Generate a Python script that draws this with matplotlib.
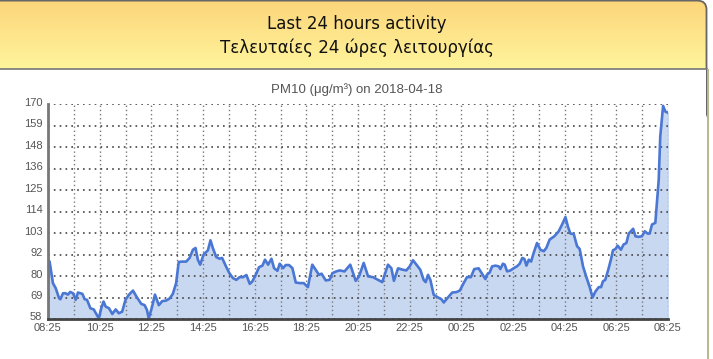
import numpy as np
import matplotlib.pyplot as plt
import matplotlib.transforms as mtransforms
from matplotlib.patches import FancyBboxPatch, Rectangle
from matplotlib.colors import LinearSegmentedColormap

# ================================
# data: hours since 08:25 on 2018-04-17, PM10 in ug/m3

hours = [0.00, 0.06, 0.19, 0.30, 0.43, 0.48, 0.58, 0.68, 0.77, 0.86, 0.97, 1.07, 1.16,
         1.33, 1.42, 1.51, 1.64, 1.77, 1.84, 1.97, 2.06, 2.15, 2.23, 2.36, 2.49, 2.62,
         2.74, 2.87, 3.00, 3.13, 3.29, 3.44, 3.61, 3.74, 3.83, 3.90, 4.03, 4.14, 4.29,
         4.42, 4.57, 4.70, 4.83, 4.96, 5.06, 5.19, 5.35, 5.48, 5.61, 5.71, 5.80, 5.89,
         6.02, 6.19, 6.29, 6.38, 6.51, 6.64, 6.74, 6.89, 7.02, 7.16, 7.29, 7.42, 7.55,
         7.68, 7.81, 7.91, 8.04, 8.17, 8.30, 8.40, 8.52, 8.65, 8.75, 8.88, 8.97, 9.10,
         9.20, 9.33, 9.46, 9.59, 9.74, 9.90, 10.06, 10.23, 10.36, 10.49, 10.59, 10.75,
         10.90, 11.01, 11.16, 11.29, 11.48, 11.70, 11.91, 12.04, 12.22, 12.39, 12.58,
         12.77, 12.94, 13.03, 13.16, 13.29, 13.39, 13.55, 13.72, 13.87, 14.00, 14.13,
         14.26, 14.41, 14.54, 14.62, 14.71, 14.80, 14.93, 15.10, 15.23, 15.32, 15.48,
         15.65, 15.81, 15.94, 16.09, 16.22, 16.37, 16.50, 16.67, 16.80, 16.93, 16.99,
         17.10, 17.19, 17.32, 17.45, 17.51, 17.61, 17.68, 17.77, 17.90, 18.03, 18.15,
         18.26, 18.36, 18.44, 18.52, 18.61, 18.70, 18.80, 18.93, 19.06, 19.19, 19.29,
         19.42, 19.60, 19.77, 19.90, 20.03, 20.12, 20.22, 20.35, 20.48, 20.58, 20.71,
         20.84, 20.97, 21.08, 21.19, 21.32, 21.41, 21.48, 21.57, 21.68, 21.79, 21.87,
         21.97, 22.05, 22.18, 22.28, 22.39, 22.48, 22.65, 22.74, 22.86, 22.99, 23.10,
         23.21, 23.29, 23.38, 23.51, 23.64, 23.70, 23.81, 23.90, 24.00]

pm10 = [87.7, 88.0, 76.7, 74.0, 68.8, 68.3, 71.4, 71.4, 70.7, 72.1, 71.4, 68.0, 71.8,
        71.1, 68.3, 68.0, 63.6, 63.0, 61.3, 58.3, 63.6, 67.1, 64.5, 63.6, 60.6, 63.0,
        61.0, 61.8, 68.0, 70.6, 72.8, 69.3, 65.9, 65.2, 62.7, 58.3, 64.5, 70.7, 65.2,
        67.3, 67.6, 68.6, 71.0, 76.7, 87.7, 87.9, 87.9, 89.8, 94.1, 95.0, 88.9, 86.3,
        91.5, 93.8, 99.0, 95.0, 90.3, 89.4, 89.8, 85.4, 81.9, 79.3, 78.4, 79.8, 79.8,
        80.9, 76.3, 77.6, 81.0, 85.0, 85.8, 88.9, 86.3, 89.4, 84.5, 83.1, 86.8, 84.5,
        86.1, 86.1, 84.5, 77.0, 76.7, 76.7, 74.6, 86.3, 83.7, 81.0, 81.6, 78.1,
        78.4, 81.9, 82.8, 83.3, 82.8, 86.3, 77.9, 80.2, 87.2, 80.2, 79.8,
        78.4, 77.2, 81.0, 86.3, 84.5, 77.9, 84.4, 83.7, 83.3, 85.4, 88.6,
        86.3, 83.7, 78.4, 77.2, 81.0, 78.4, 70.6, 69.2, 68.3, 66.6, 69.2,
        71.8, 72.0, 72.8, 76.7, 79.8, 79.8, 84.0, 84.4, 81.6, 78.8, 81.0,
        82.3, 85.4, 85.8, 85.4, 84.0, 86.8, 86.3, 82.8, 83.3, 84.5, 85.4,
        86.8, 89.8, 89.3, 85.8, 88.9, 87.9, 92.4, 97.6, 94.1, 93.3, 95.0,
        99.4, 101.1, 103.7, 107.2, 111.1, 106.4, 102.5, 102.3, 95.9, 94.5, 85.4,
        79.8, 74.6, 69.2, 72.3, 74.6, 74.6, 77.6, 78.4, 83.3, 88.9, 93.8,
        94.5, 96.2, 94.1, 96.8, 97.6, 102.5, 105.0, 101.1, 100.8, 101.1, 103.7,
        102.5, 102.5, 107.2, 108.1, 130.4, 153.0, 169.0, 166.0, 165.5]

y_min, y_max = 58, 170
y_ticks = np.linspace(y_min, y_max, 11)
x_labels = ['08:25', '10:25', '12:25', '14:25', '16:25', '18:25', '20:25',
            '22:25', '00:25', '02:25', '04:25', '06:25', '08:25']

title_en = 'Last 24 hours activity'
title_gr = 'Τελευταίες 24 ώρες λειτουργίας'
chart_title = 'PM10 (μg/m³) on 2018-04-18'

# ================================
# figure + header

W, H = 713, 359
fig = plt.figure(figsize=(W / 100, H / 100), dpi=100)

bg = fig.add_axes([0, 0, 1, 1], zorder=0)
bg.set_xlim(0, W)
bg.set_ylim(H, 0)
bg.axis('off')

# yellow gradient header, only the top right corner is rounded
cmap = LinearSegmentedColormap.from_list('hdr', ['#fcd57a', '#fff59c'])
grad = np.linspace(0, 1, 64).reshape(-1, 1)
img = bg.imshow(grad, cmap=cmap, extent=[0, 707, 69, 0], aspect='auto', zorder=1)
box_kw = dict(boxstyle='round,pad=0,rounding_size=9')
clip = FancyBboxPatch((-20, 0.6), 726.5, 120, transform=bg.transData,
                      facecolor='none', edgecolor='none', **box_kw)
bg.add_patch(clip)
img.set_clip_path(clip)
bg.add_patch(FancyBboxPatch((-20, 0.6), 726.5, 120, facecolor='none',
                            edgecolor='#666666', lw=1.3, zorder=2, **box_kw))
bg.add_patch(Rectangle((0, 69), 706, 300, facecolor='white', edgecolor='none', zorder=2.5))
bg.plot([0, 707], [69, 69], color='#777777', lw=1.2, zorder=3)

# right side frame strip
bg.add_patch(Rectangle((706.5, 69), 2, H - 69, facecolor='#b9b98f', edgecolor='none', zorder=3))

bg.text(357, 24, title_en, ha='center', va='center', fontsize=12, color='#111111', zorder=4)
bg.text(357, 48, title_gr, ha='center', va='center', fontsize=12, color='#111111', zorder=4)
bg.text(357, 90, chart_title, ha='center', va='center', fontsize=9.5, color='#555555',
        family='Liberation Sans', zorder=4)

# ================================
# chart

ax = fig.add_axes([48 / W, 1 - 319 / H, 620 / W, 215 / H], zorder=2)
ax.patch.set_alpha(0)

ax.fill_between(hours, pm10, y_min, color='#c9d8f1', zorder=1)
ax.plot(hours, pm10, color='#4a77d4', lw=1.9, zorder=3)

ax.set_xlim(0, 24)
ax.set_ylim(y_min, y_max)

ax.set_yticks(y_ticks)
ax.set_yticklabels([str(int(round(v))) for v in y_ticks])
ax.set_xticks(np.arange(0, 25, 2))
ax.set_xticklabels(x_labels)
ax.set_xticks(np.arange(1, 24, 2), minor=True)

ax.tick_params(axis='both', which='both', length=0, labelsize=8, labelcolor='#555555')
ax.tick_params(axis='y', pad=4)
ax.tick_params(axis='x', pad=3)
up = mtransforms.ScaledTranslation(0, 2.5 / 100, fig.dpi_scale_trans)
for lbl in ax.get_yticklabels():
    lbl.set_family('Liberation Sans')
    lbl.set_transform(lbl.get_transform() + up)
for lbl in ax.get_xticklabels():
    lbl.set_family('Liberation Sans')

ax.grid(True, which='both', axis='x', color='#777777', linestyle=(0, (1, 2)), lw=1, zorder=2)
ax.grid(True, axis='y', color='#444444', linestyle=(0, (1, 2.5)), lw=1.2, zorder=2)
ax.set_axisbelow(False)

for s in ['top', 'right']:
    ax.spines[s].set_visible(False)
ax.spines['left'].set_color('#777777')
ax.spines['left'].set_linewidth(2)
ax.spines['bottom'].set_color('#444444')
ax.spines['bottom'].set_linewidth(2)
ax.spines['left'].set_zorder(5)
ax.spines['bottom'].set_zorder(5)

fig.savefig('out.png', dpi=100)
